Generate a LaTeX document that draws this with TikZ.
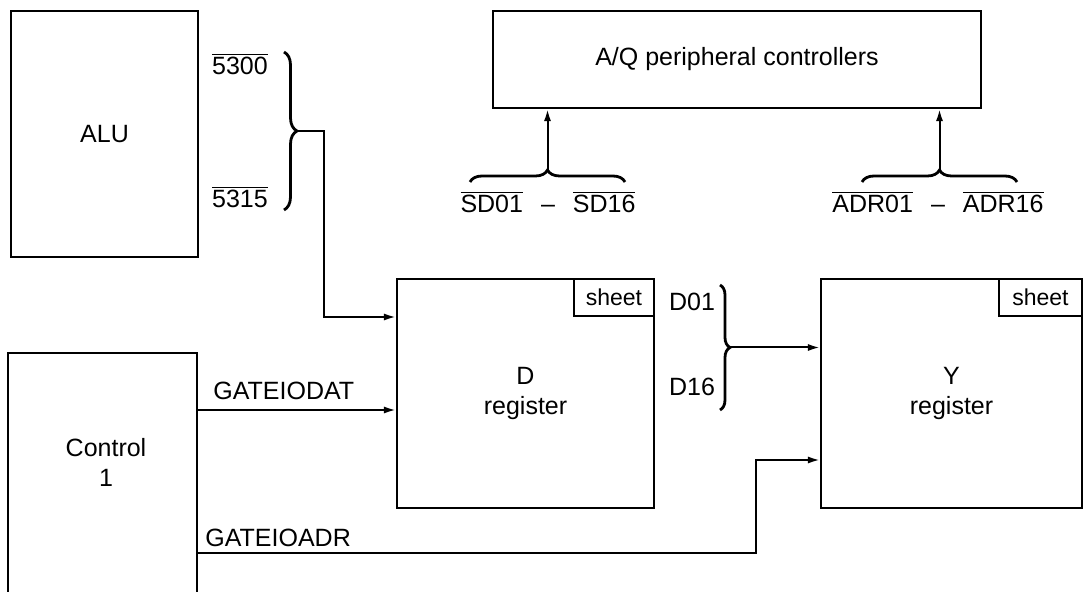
\documentclass[tikz,border=0pt]{standalone}
\usepackage{fontspec}
\setmainfont{Liberation Sans}
\usetikzlibrary{arrows.meta, decorations.pathreplacing}

\newcommand{\negsig}[1]{$\overline{\mbox{#1}}$}

\begin{document}
\begin{tikzpicture}[
    x=0.5pt, y=-0.5pt,
    every node/.style={font=\fontsize{12.5}{15}\selectfont},
    blk/.style={draw, line width=1.2pt, inner sep=0pt, align=center},
    tab/.style={draw, line width=1.2pt, inner sep=0pt, anchor=north east,
                minimum height=18.5pt, font=\fontsize{11.5}{13}\selectfont},
    wire/.style={line width=1pt},
    brc/.style={decorate, decoration={brace, amplitude=#1}, line width=1.4pt},
    lbl/.style={inner sep=0pt, anchor=base},
    >={Latex[length=6pt, width=3.6pt]}
]

% 1. Frame (pixel grid of the sheet)
\useasboundingbox (0,0) rectangle (1086,592);

% 2. Blocks
\node[blk, minimum width=93.5pt, minimum height=123pt] (alu) at (104.5,134) {ALU};
\node[blk, minimum width=94.5pt, minimum height=133.5pt] (ctrl) at (102.5,486.5) {};
\node[align=center] (ctrltxt) at (106,462) {Control\\1};
\node[blk, minimum width=244pt, minimum height=48.5pt] (aq) at (737,59.5) {A/Q peripheral controllers};
\node[blk, minimum width=128.5pt, minimum height=114.5pt] (dreg) at (525.5,393.5) {D\\register};
\node[tab, minimum width=40pt] (dsheet) at (dreg.north east) {sheet};
\node[blk, minimum width=130.5pt, minimum height=114.5pt] (yreg) at (951.5,393.5) {Y\\register};
\node[tab, minimum width=41.5pt] (ysheet) at (yreg.north east) {sheet};

% 3. Signal names
\node[lbl] (s5300) at (240,75) {\negsig{5300}};
\node[lbl] (s5315) at (240,208) {\negsig{5315}};
\node[lbl] (sdbus) at (548,213) {\negsig{SD01}\hspace{9pt}--\hspace{9pt}\negsig{SD16}};
\node[lbl] (adrbus) at (938,213) {\negsig{ADR01}\hspace{9pt}--\hspace{9pt}\negsig{ADR16}};
\node[lbl] (d01) at (692,311) {D01};
\node[lbl] (d16) at (692,396) {D16};
\node[lbl, anchor=base west] (gdat) at (213,400) {GATEIODAT};
\node[lbl, anchor=base west] (gadr) at (205,546) {GATEIOADR};

% 4. Bus braces
\draw[brc=6.5pt] (284,52) -- (284,210);
\coordinate (alutip) at (297,131);
\draw[brc=6pt] (470,182) -- (625,182);
\coordinate (sdtip) at (547.5,170);
\draw[brc=6pt] (862,182) -- (1017,182);
\coordinate (adrtip) at (939.5,170);
\draw[brc=5pt] (720,285) -- (720,410);
\coordinate (dtip) at (730,347.5);

% 5. Connectors
\draw[wire, ->] (alutip) -- ++(27,0) |- ([yshift=38.25pt]dreg.west);
\draw[wire, ->] (sdtip) -- (sdtip |- aq.south);
\draw[wire, ->] (adrtip) -- (adrtip |- aq.south);
\draw[wire, ->] (dtip) -- (dtip -| yreg.west);
\draw[wire, ->] (ctrl.east |- 0,410) -- (dreg.west |- 0,410);
\draw[wire, ->] (ctrl.east |- 0,553) -| (756,460) -- (yreg.west |- 0,460);

\end{tikzpicture}
\end{document}
